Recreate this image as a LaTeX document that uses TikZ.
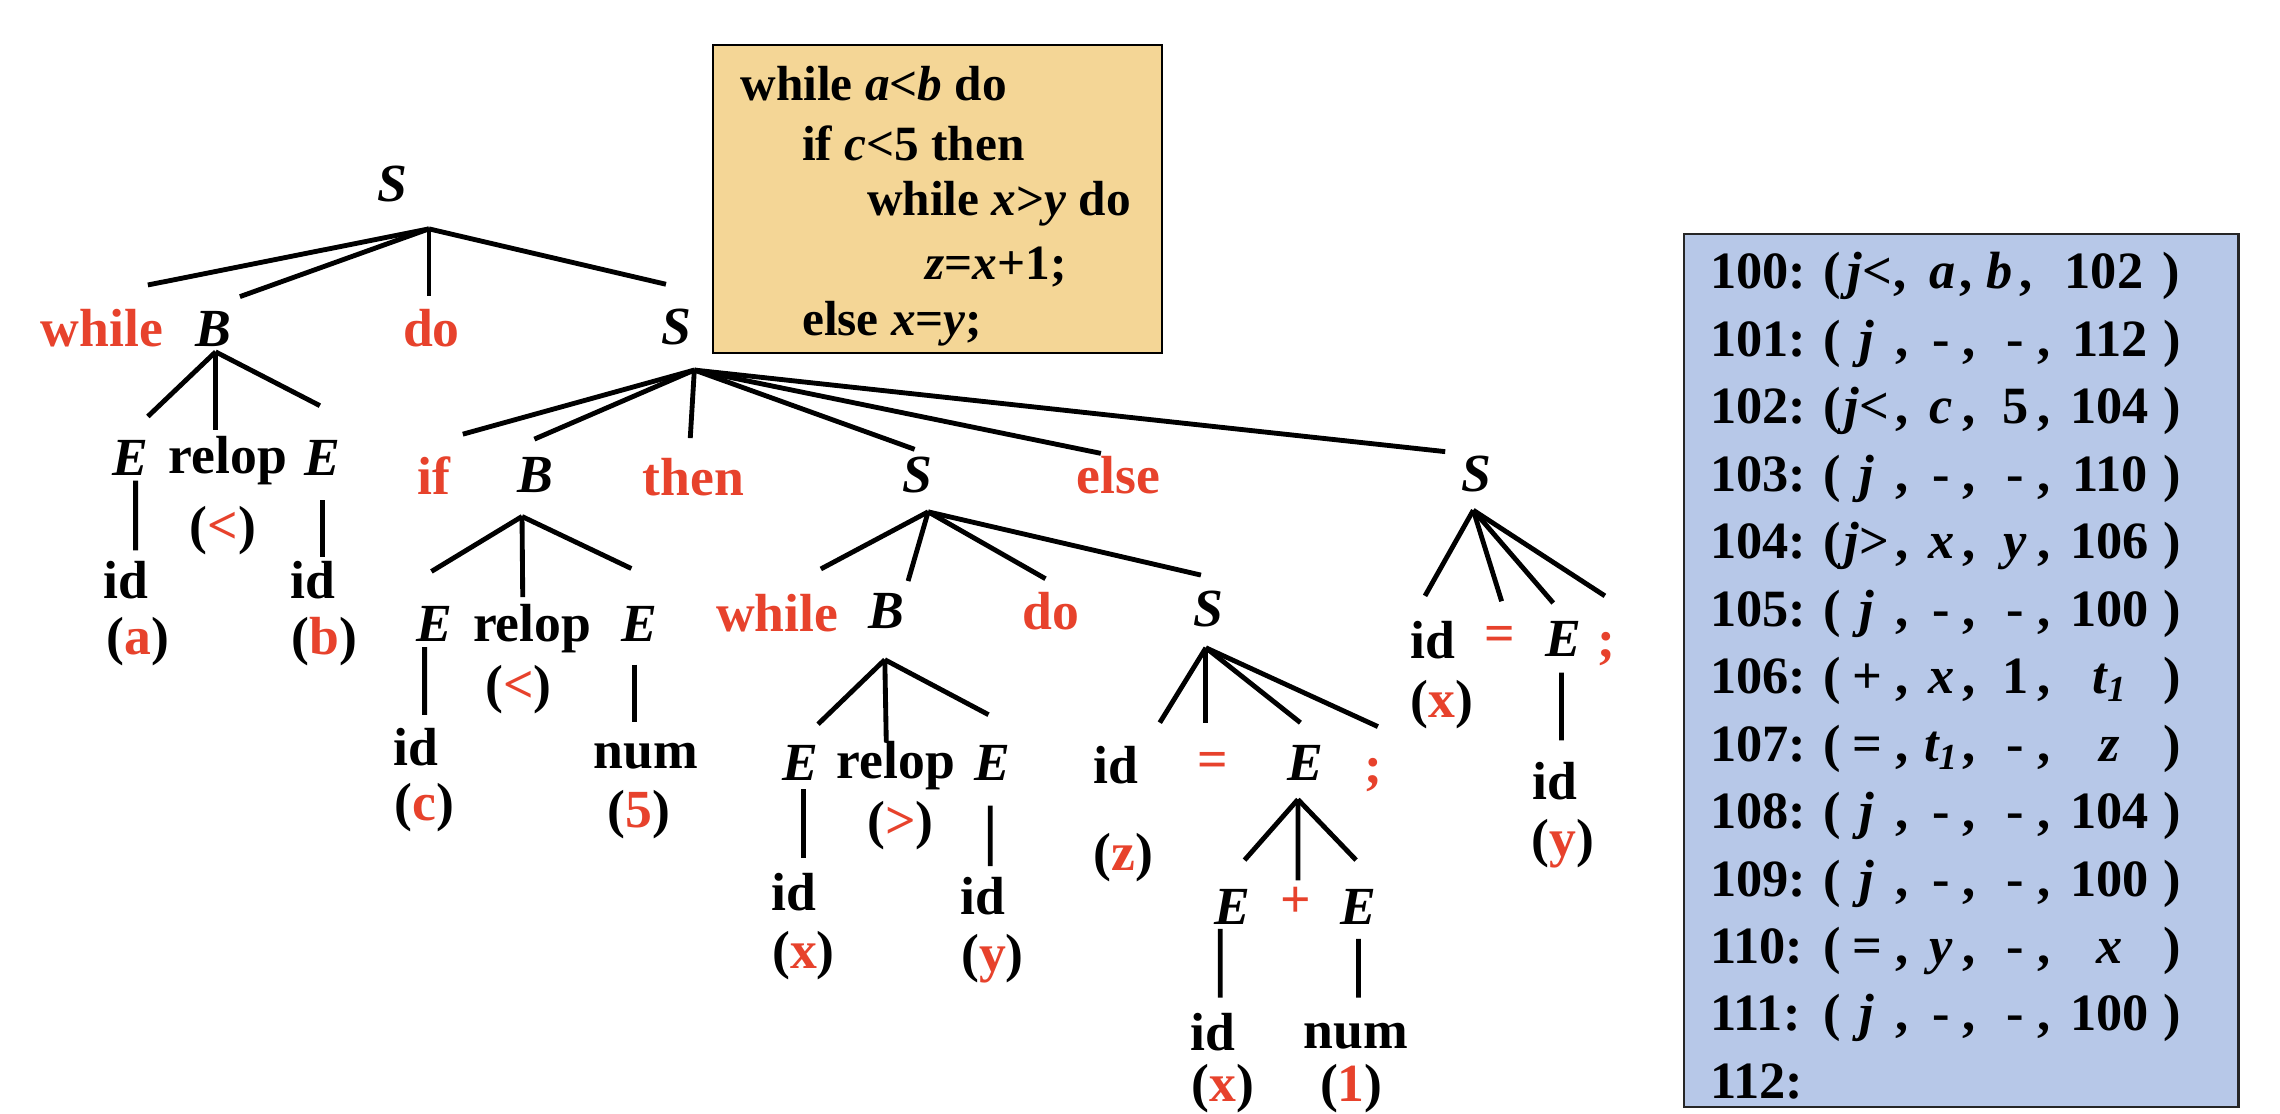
\documentclass[tikz,border=0pt]{standalone}
\usepackage{fontspec}
\setmainfont{Liberation Serif}
\usetikzlibrary{calc}
\definecolor{kred}{RGB}{231,66,44}
\definecolor{codebg}{RGB}{244,214,150}
\definecolor{quadbg}{RGB}{183,200,232}
\tikzset{
  kw/.style={font=\fontsize{21}{25}\selectfont\bfseries,text=kred,inner sep=0pt},
  nt/.style={font=\fontsize{21}{25}\selectfont\bfseries\itshape,inner sep=0pt},
  tm/.style={font=\fontsize{21}{25}\selectfont\bfseries,inner sep=0pt},
  edge/.style={line width=1.9pt},
  code/.style={font=\fontsize{19.3}{23}\selectfont\bfseries,inner sep=0pt,anchor=west},
  qt/.style={font=\fontsize{20.5}{24}\selectfont\bfseries,inner sep=0pt,anchor=base},
}
\newcommand\rd[1]{\textcolor{kred}{#1}}
\newcommand\br[4]{\draw[edge] (#1) -- ($(#2)+(#3,#4)$);}
\newcommand\un[6]{\draw[edge] ($(#1)+(#2,#3)$) -- ($(#4)+(#5,#6)$);}
\newcommand\qrow[6]{%
  \pgfmathsetmacro\qy{198.6+46.4*#1}%
  \node[qt,anchor=base west] (q#2) at (1175.8,\qy) {#2:};
  \node[qt] (q#2p) at (1260,\qy) {(};
  \node[qt] (q#2o) at (1284,\qy) {#3};
  \node[qt] (q#2c1) at (1308,\qy) {,};
  \node[qt] (q#2a) at (1335,\qy) {#4};
  \node[qt] (q#2c2) at (1354,\qy) {,};
  \node[qt] (q#2b) at (1386,\qy) {#5};
  \node[qt] (q#2c3) at (1406,\qy) {,};
  \node[qt] (q#2r) at (1451,\qy) {#6};
  \node[qt] (q#2q) at (1494,\qy) {)};
}
\begin{document}
\begin{tikzpicture}[x=0.02cm,y=-0.02cm]
\useasboundingbox (0,0) rectangle (1568,766);
\fill[white] (0,0) rectangle (1568,766);

% ---------- code box ----------
\node[draw,line width=0.8pt,fill=codebg,inner sep=0pt,minimum width=6.176cm,minimum height=4.238cm] (codebox) at (644.7,136.85) {};
\node[code] (c1) at (508.9,57.3) {while \textit{a}<\textit{b} do};
\node[code] (c2) at (551.3,98.6) {if \textit{c}<5 then};
\node[code] (c3) at (596,139.8) {while \textit{x}>\textit{y} do};
\node[code] (c4) at (636.1,183.4) {\textit{z}=\textit{x}+1;};
\node[code] (c5) at (551.3,222.4) {else \textit{x}=\textit{y};};

% ---------- quadruple box ----------
\node[draw=black!85,line width=1pt,fill=quadbg,inner sep=0pt,minimum width=7.626cm,minimum height=12.01cm] (quadbox) at (1348.65,461.25) {};
\pgfmathsetmacro\qy{198.6}
\node[qt,anchor=base west] (q100) at (1175.8,\qy) {100:};
\node[qt] (q100p) at (1260,\qy) {(};
\node[qt] (q100o) at (1286,\qy) {\textit{j}<};
\node[qt] (q100c1) at (1307,\qy) {,};
\node[qt] (q100a) at (1336,\qy) {\textit{a}};
\node[qt] (q100c2) at (1352,\qy) {,};
\node[qt] (q100b) at (1375,\qy) {\textit{b}};
\node[qt] (q100c3) at (1393,\qy) {,};
\node[qt] (q100r) at (1447,\qy) {102};
\node[qt] (q100q) at (1493,\qy) {)};
\qrow{1}{101}{\textit{j}}{-}{-}{112}
\qrow{2}{102}{\textit{j}<}{\textit{c}}{5}{104}
\qrow{3}{103}{\textit{j}}{-}{-}{110}
\qrow{4}{104}{\textit{j}>}{\textit{x}}{\textit{y}}{106}
\qrow{5}{105}{\textit{j}}{-}{-}{100}
\qrow{6}{106}{+}{\textit{x}}{1}{\textit{t\textsubscript{1}}}
\qrow{7}{107}{=}{\textit{t\textsubscript{1}}}{-}{\textit{z}}
\qrow{8}{108}{\textit{j}}{-}{-}{104}
\qrow{9}{109}{\textit{j}}{-}{-}{100}
\qrow{10}{110}{=}{\textit{y}}{-}{\textit{x}}
\qrow{11}{111}{\textit{j}}{-}{-}{100}
\node[qt,anchor=base west] (q112) at (1175.8,{198.6+46.4*12}) {112:};

% ---------- parse tree nodes ----------
\node[nt] (r) at (270,126.7) {S};
\node[kw] (w1) at (70,226) {while};
\node[nt] (b1) at (146.7,226) {B};
\node[kw] (d1) at (296.7,226) {do};
\node[nt] (s1) at (465,225) {S};
\node[nt] (e1) at (90,314.6) {E};
\node[tm] (r1) at (156.7,317) {relop};
\node[nt] (e2) at (221.7,314.6) {E};
\node[tm] (lt1) at (153.3,365) {(\rd{<})};
\node[tm] (i1) at (86.7,399) {id};
\node[tm] (pa) at (95,441) {(\rd{a})};
\node[tm] (i2) at (215,399) {id};
\node[tm] (pb) at (223,441) {(\rd{b})};

\node[kw] (if1) at (298.3,327) {if};
\node[nt] (b2) at (368.3,327) {B};
\node[kw] (th) at (476.7,328) {then};
\node[nt] (s2) at (631,327) {S};
\node[kw] (el) at (769.3,327) {else};
\node[nt] (s5) at (1015.5,326.3) {S};

\node[nt] (e3) at (299,429) {E};
\node[tm] (r2) at (366,432) {relop};
\node[nt] (e4) at (440,429) {E};
\node[tm] (lt2) at (356.5,474.5) {(\rd{<})};
\node[tm] (i3) at (285.9,513.8) {id};
\node[tm] (pc) at (292,555.5) {(\rd{c})};
\node[tm] (n1) at (444,520) {num};
\node[tm] (p5) at (439.4,560.5) {(\rd{5})};

\node[kw] (w2) at (534.5,421.5) {while};
\node[nt] (b3) at (609.7,420.5) {B};
\node[kw] (d2) at (722.6,420.5) {do};
\node[nt] (s4) at (830.9,419) {S};

\node[nt] (e5) at (550.3,524.8) {E};
\node[tm] (r3) at (616,526.7) {relop};
\node[nt] (e6) at (682.2,524.8) {E};
\node[tm] (gt) at (619.3,567.9) {(\rd{>})};
\node[tm] (i4) at (546,613.8) {id};
\node[tm] (px1) at (552.6,656.9) {(\rd{x})};
\node[tm] (i5) at (675.9,616.5) {id};
\node[tm] (py1) at (682.6,659.6) {(\rd{y})};

\node[tm] (i6) at (767.6,526.2) {id};
\node[kw] (eq1) at (834.3,526.2) {=};
\node[nt] (e7) at (897.6,524.8) {E};
\node[kw] (sc1) at (944.3,533) {;};
\node[tm] (pz) at (772.6,590) {(\rd{z})};

\node[nt] (e8) at (847.6,623.5) {E};
\node[kw] (pl) at (890.9,620.7) {+};
\node[nt] (e9) at (934.3,623.5) {E};
\node[tm] (i7) at (834.3,709.7) {id};
\node[tm] (px2) at (840.9,748.5) {(\rd{x})};
\node[tm] (n2) at (932.6,712.5) {num};
\node[tm] (p1) at (929.3,748.5) {(\rd{1})};

\node[tm] (i8) at (985.7,440.5) {id};
\node[kw] (eq2) at (1031.5,439.3) {=};
\node[nt] (e10) at (1075,439.3) {E};
\node[kw] (sc2) at (1104.9,446.6) {;};
\node[tm] (px3) at (991.4,484.7) {(\rd{x})};
\node[tm] (i9) at (1069.3,537.5) {id};
\node[tm] (py2) at (1075,580.4) {(\rd{y})};

% ---------- joints ----------
\coordinate (rJ) at (295,157.4);
\coordinate (b1J) at (148.3,242);
\coordinate (s1J) at (477.5,254.5);
\coordinate (b2J) at (359,355.2);
\coordinate (s2J) at (638.3,352);
\coordinate (b3J) at (608.5,453.7);
\coordinate (s4J) at (829.3,445.5);
\coordinate (e7J) at (892.6,549.8);
\coordinate (s5J) at (1013.2,350.9);

% ---------- branches ----------
\br{rJ}{w1}{31.7}{-30}
\br{rJ}{b1}{18.3}{-22}
\br{rJ}{d1}{-1.7}{-22.7}
\br{rJ}{s1}{-7}{-29.5}

\br{b1J}{e1}{11.7}{-28.2}
\br{b1J}{r1}{-8.4}{-21}
\br{b1J}{e2}{-1.7}{-35.6}

\br{s1J}{if1}{20}{-28.4}
\br{s1J}{b2}{-0.8}{-25}
\br{s1J}{th}{-2}{-26.7}
\br{s1J}{s2}{-2}{-18}
\br{s1J}{el}{-12.2}{-15.2}
\br{s1J}{s5}{-21.6}{-15.7}

\br{b2J}{e3}{-2.3}{-36}
\br{b2J}{r2}{-6.5}{-21.4}
\br{b2J}{e4}{-5.8}{-38}

\br{s2J}{w2}{30}{-30.2}
\br{s2J}{b3}{14.8}{-20.9}
\br{s2J}{d2}{-3.6}{-22.5}
\br{s2J}{s4}{-5}{-23.5}

\br{b3J}{e5}{12.3}{-26.8}
\br{b3J}{r3}{-6.5}{-16.7}
\br{b3J}{e6}{-2.4}{-33.3}

\br{s4J}{i6}{30}{-29.2}
\br{s4J}{eq1}{-5}{-29.2}
\br{s4J}{e7}{-3.3}{-27.8}
\br{s4J}{sc1}{3.3}{-33.3}

\br{e7J}{e8}{8.3}{-32}
\br{e7J}{pl}{1.7}{-15.3}
\br{e7J}{e9}{-1.7}{-32}

\br{s5J}{i8}{-5.7}{-30.7}
\br{s5J}{eq2}{1.2}{-25.8}
\br{s5J}{e10}{-6.8}{-24.6}
\br{s5J}{sc2}{-1.2}{-36.8}

% ---------- unary links ----------
\un{e1}{3.3}{15.9}{i1}{6.6}{-20.5}
\un{e2}{0}{29.4}{i2}{6.7}{-15.6}
\un{e3}{-7}{16}{i3}{6.1}{-22.1}
\un{e4}{-3.7}{28}{n1}{-7.7}{-23.4}
\un{e5}{2.3}{18.1}{i4}{6.6}{-23.8}
\un{e6}{-1.2}{29.2}{i5}{5.1}{-20.8}
\un{e8}{-8.4}{15.3}{i7}{4.9}{-23.7}
\un{e9}{0}{22.2}{n2}{1.7}{-26.5}
\un{e10}{-1.1}{23.3}{i9}{4.6}{-28.3}
\end{tikzpicture}
\end{document}
